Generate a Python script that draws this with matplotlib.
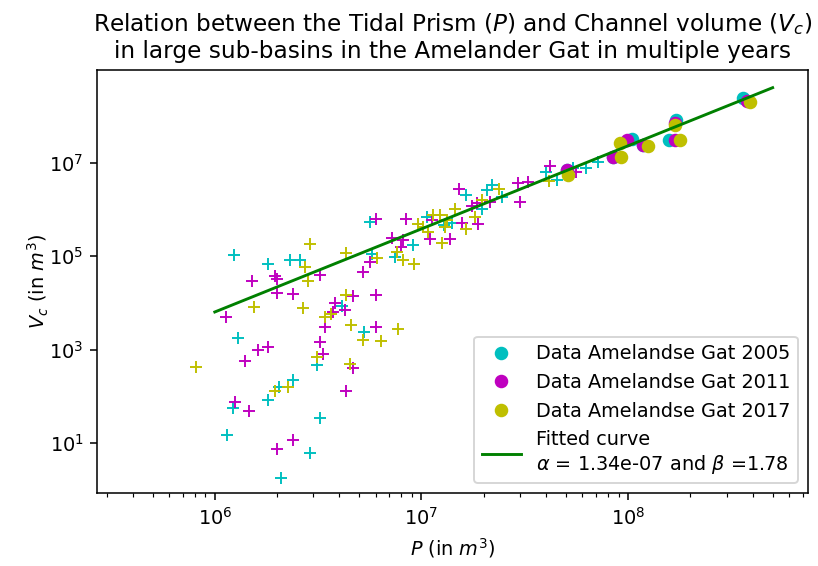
import numpy as np
import matplotlib.pyplot as plt
from matplotlib.ticker import NullLocator

# --- small sub-basins (plotted as +) ---
P_2005 = [1.24e6, 1.80e6, 2.31e6, 2.58e6, 1.30e6, 1.23e6, 1.80e6, 1.15e6, 2.05e6, 2.39e6,
          2.08e6, 2.90e6, 3.22e6, 3.13e6, 4.11e6, 5.27e6, 5.74e6, 5.64e6, 7.45e6, 9.12e6,
          1.06e7, 1.28e7, 1.40e7, 1.64e7, 2.07e7, 2.19e7, 2.45e7, 1.96e7, 4.0e7, 4.52e7,
          5.43e7, 6.26e7, 7.18e7]
V_2005 = [1.08e5, 6.9e4, 8.2e4, 8.2e4, 1.8e3, 55, 84, 15, 161, 225,
          1.8, 6.0, 35, 472, 8.8e3, 2.36e3, 1.14e5, 5.4e5, 9.6e4, 1.71e5,
          6.9e5, 4.6e5, 5.2e5, 2.03e6, 2.6e6, 3.3e6, 1.86e6, 1.05e6, 6.4e6, 4.3e6,
          7.6e6, 7.6e6, 1.05e7]

P_2011 = [1.52e6, 1.95e6, 2.0e6, 1.13e6, 1.62e6, 1.81e6, 1.40e6, 1.25e6, 1.47e6, 1.99e6,
          2.39e6, 2.39e6, 1.99e6, 3.22e6, 3.81e6, 4.26e6, 4.68e6, 6.03e6, 3.74e6, 3.41e6,
          6.03e6, 3.22e6, 3.32e6, 4.68e6, 4.31e6, 6.03e6, 8.38e6, 7.18e6, 8.17e6, 8.0e6,
          5.64e6, 5.23e6, 1.10e7, 1.12e7, 1.37e7, 1.57e7, 1.88e7, 1.52e7, 1.75e7, 1.86e7,
          2.15e7, 2.94e7, 3.29e7, 2.98e7, 4.19e7, 5.6e7]
V_2011 = [2.9e4, 3.8e4, 3.2e4, 4.96e3, 990, 1.13e3, 583, 77, 48, 7.4,
          11.6, 1.57e4, 1.62e4, 3.9e4, 9.9e3, 7.1e3, 1.38e4, 1.45e4, 6.4e3, 3.0e3,
          3.1e3, 1.44e3, 813, 406, 132, 6.4e5, 6.4e5, 2.5e5, 2.2e5, 1.57e5,
          7.5e4, 4.6e4, 2.4e5, 5.9e5, 2.4e5, 5.2e5, 4.8e5, 2.8e6, 1.18e6, 1.39e6,
          1.46e6, 3.7e6, 3.9e6, 1.46e6, 8.5e6, 6.4e6]

P_2017 = [8.1e5, 1.55e6, 1.95e6, 2.26e6, 2.73e6, 2.82e6, 2.88e6, 2.66e6, 4.31e6, 4.31e6,
          6.07e6, 3.41e6, 3.63e6, 4.54e6, 5.19e6, 6.34e6, 7.67e6, 3.11e6, 4.51e6, 8.17e6,
          9.2e6, 7.59e6, 9.65e6, 1.14e7, 1.08e7, 1.23e7, 1.33e7, 1.02e7, 1.25e7, 1.30e7,
          1.65e7, 1.45e7, 1.82e7, 1.96e7, 2.36e7, 4.16e7]
V_2017 = [419, 8.4e3, 132, 161, 5.9e4, 3.0e4, 1.86e5, 7.7e3, 1.17e5, 1.45e4,
          9.3e4, 4.96e3, 5.9e3, 3.4e3, 1.62e3, 1.51e3, 2.8e3, 711, 495, 8.2e4,
          6.9e4, 1.23e5, 4.8e5, 7.6e5, 3.3e5, 7.6e5, 5.9e5, 4.2e5, 1.92e5, 4.2e5,
          3.9e5, 1.05e6, 6.9e5, 1.59e6, 2.7e6, 4.1e6]

# --- large sub-basins (plotted as o) ---
P_big_2005 = [5.05e7, 8.49e7, 1.04e8, 1.18e8, 1.71e8, 1.57e8, 3.59e8]
V_big_2005 = [6.97e6, 1.31e7, 3.18e7, 2.4e7, 8.24e7, 3.07e7, 2.41e8]
P_big_2011 = [5.05e7, 8.49e7, 9.86e7, 1.18e8, 1.69e8, 1.69e8, 3.76e8]
V_big_2011 = [6.97e6, 1.31e7, 3.07e7, 2.4e7, 7.2e7, 3.07e7, 2.14e8]
P_big_2017 = [5.14e7, 9.23e7, 9.14e7, 1.25e8, 1.69e8, 1.79e8, 3.90e8]
V_big_2017 = [5.45e6, 1.31e7, 2.69e7, 2.28e7, 6.4e7, 3.07e7, 2.04e8]

years = ['2005', '2011', '2017']
colors = ['c', 'm', 'y']

alpha = 1.34e-07
beta = 1.78

DPI = 139
fig = plt.figure(figsize=(818 / DPI, 566 / DPI), dpi=DPI)
fig.subplots_adjust(left=97 / 818, right=808 / 818, top=1 - 70 / 566, bottom=1 - 493 / 566)
ax = fig.add_subplot(111)

small = [(P_2005, V_2005), (P_2011, V_2011), (P_2017, V_2017)]
big = [(P_big_2005, V_big_2005), (P_big_2011, V_big_2011), (P_big_2017, V_big_2017)]

for (p, v), c in zip(small, colors):
    ax.plot(p, v, '+', color=c, ms=6.5)
for (p, v), c, yr in zip(big, colors, years):
    ax.plot(p, v, 'o', color=c, ms=6, label='Data Amelandse Gat ' + yr)

# fitted curve V = alpha * P^beta
P_fit = np.logspace(6, np.log10(5e8), 100)
ax.plot(P_fit, alpha * P_fit ** beta, color='g', lw=1.5,
        label='Fitted curve\n$\\alpha$ = %.2e and $\\beta$ =%.2f' % (alpha, beta))

ax.set_xscale('log')
ax.set_yscale('log')
ax.set_xlim(10 ** 5.43, 10 ** 8.87)
ax.set_ylim(10 ** -0.07, 10 ** 8.99)
ax.set_yticks([1e1, 1e3, 1e5, 1e7])
ax.yaxis.set_minor_locator(NullLocator())
ax.set_xlabel('$P$ (in $m^3$)')
ax.set_ylabel('$V_c$ (in $m^3$)', labelpad=-1)
ax.set_title('Relation between the Tidal Prism ($P$) and Channel volume ($V_c$)\n'
             'in large sub-basins in the Amelander Gat in multiple years')
ax.legend(loc='lower right')

fig.savefig('out.png', dpi=DPI)
